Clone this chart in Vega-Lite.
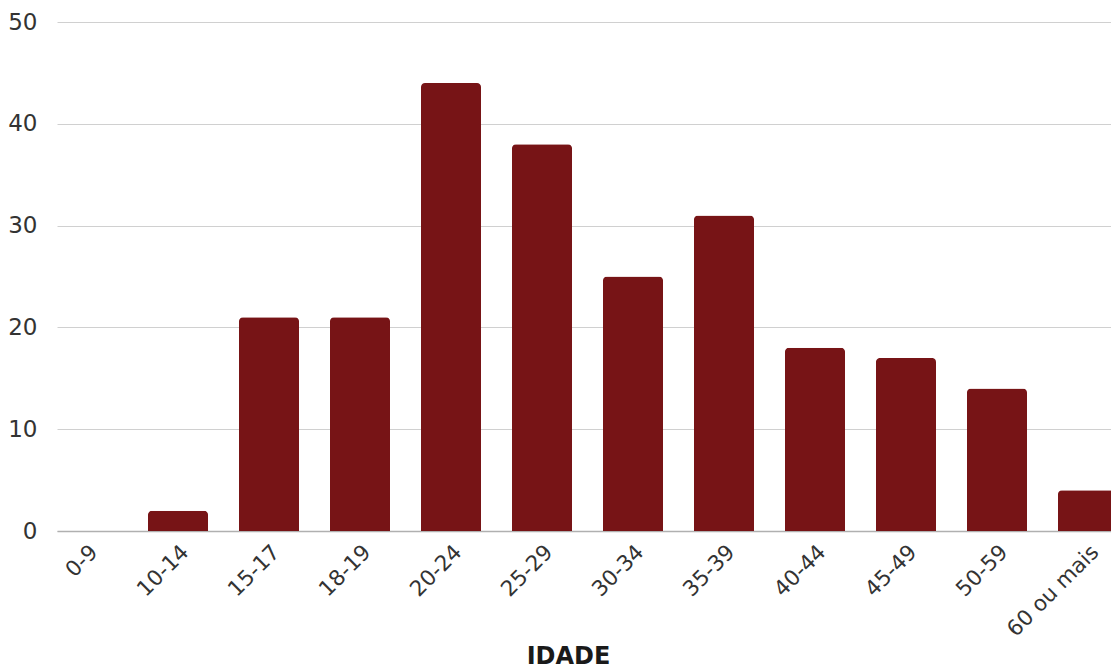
{
  "$schema": "https://vega.github.io/schema/vega-lite/v6.json",
  "autosize": {"type": "none"},
  "width": 1054,
  "height": 509,
  "padding": {"left": 57, "top": 22, "right": 0, "bottom": 137},
  "background": "white",
  "config": {"view": {"stroke": null}, "font": "DejaVu Sans"},
  "data": {
    "values": [
      {"idade": "0-9", "n": 0},
      {"idade": "10-14", "n": 2},
      {"idade": "15-17", "n": 21},
      {"idade": "18-19", "n": 21},
      {"idade": "20-24", "n": 44},
      {"idade": "25-29", "n": 38},
      {"idade": "30-34", "n": 25},
      {"idade": "35-39", "n": 31},
      {"idade": "40-44", "n": 18},
      {"idade": "45-49", "n": 17},
      {"idade": "50-59", "n": 14},
      {"idade": "60 ou mais", "n": 4}
    ]
  },
  "mark": {"type": "bar", "color": "#771416", "cornerRadiusTopLeft": 4, "cornerRadiusTopRight": 4},
  "encoding": {
    "x": {
      "field": "idade", "type": "nominal", "sort": null,
      "scale": {"paddingInner": 0.34, "paddingOuter": 0, "range": [0, 1061]},
      "axis": {
        "title": "IDADE", "titleFontSize": 24, "titleFontWeight": "bold", "titleColor": "#1a1a1a",
        "titleFont": "DejaVu Sans", "titleX": 511, "titleY": 132, "titleAnchor": "middle", "titleBaseline": "alphabetic",
        "labelAngle": -45, "labelFontSize": 21.5, "labelColor": "#333333", "labelPadding": 10, "labelFont": "DejaVu Sans",
        "ticks": false, "domain": true, "domainColor": "#b0b0b0", "domainWidth": 1.5, "grid": false
      }
    },
    "y": {
      "field": "n", "type": "quantitative",
      "scale": {"domain": [0, 50], "nice": false},
      "axis": {
        "title": null, "values": [0, 10, 20, 30, 40, 50], "labelFontSize": 23, "labelColor": "#333333", "labelFont": "DejaVu Sans",
        "labelPadding": 20, "ticks": false, "domain": false, "gridColor": "#d0d0d0", "gridWidth": 1
      }
    }
  }
}
